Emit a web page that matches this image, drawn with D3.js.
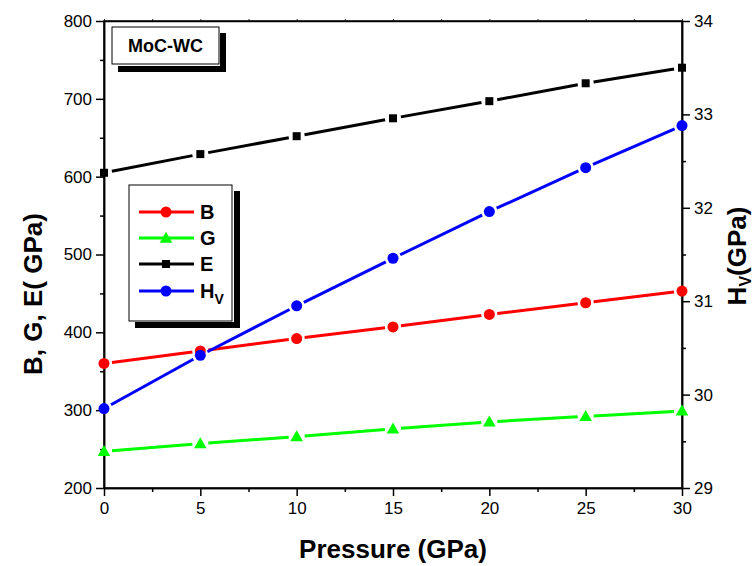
<!DOCTYPE html>
<html><head><meta charset="utf-8">
<script src="https://cdn.jsdelivr.net/npm/d3@7"></script>
<style>body{margin:0;background:#fff}svg{display:block}text{font-family:"Liberation Sans",Arial,sans-serif}</style>
</head><body>
<script>
const pressure = [0, 5, 10, 15, 20, 25, 30];
const B  = [360, 376, 392, 407, 423, 438, 453];
const G  = [247, 257, 266, 276, 285, 292, 299];
const E  = [605, 629, 652, 675, 697, 720, 740];
const Hv = [29.85, 30.42, 30.95, 31.46, 31.96, 32.43, 32.88];
const leftTicks = [200, 300, 400, 500, 600, 700, 800];
const rightTicks = [29, 30, 31, 32, 33, 34];
const bottomTicks = [0, 5, 10, 15, 20, 25, 30];
const seriesNames = ["B", "G", "E", "Hv"];
const seriesColors = ["#ff0000", "#00ff00", "#000000", "#0000ff"];
const seriesSymbols = ["circle", "triangle", "square", "circle"];

const W = 756, H = 566;
const svg = d3.select("body").append("svg").attr("width", W).attr("height", H);
const x = d3.scaleLinear().domain([0, 30]).range([104, 682]);
const yL = d3.scaleLinear().domain([200, 800]).range([488, 21]);
const yR = d3.scaleLinear().domain([29, 34]).range([488, 21]);

// frame
const fr = svg.append("g").attr("stroke", "#000").attr("stroke-width", 1.5).attr("fill", "none");
fr.append("rect").attr("x", x(0)).attr("y", yL(800)).attr("width", x(30) - x(0)).attr("height", yL(200) - yL(800));

// axes
const fmt = d3.format("d");
const axL = d3.axisLeft(yL).tickValues(leftTicks).tickSize(8).tickSizeOuter(0).tickPadding(4).tickFormat(fmt);
const axLm = d3.axisLeft(yL).tickValues(d3.range(250, 800, 100)).tickSize(4).tickFormat("").tickSizeOuter(0);
const axB = d3.axisBottom(x).tickValues(bottomTicks).tickSize(8).tickSizeOuter(0).tickPadding(6).tickFormat(fmt);
const axBm = d3.axisBottom(x).tickValues(d3.range(2.5, 30, 5)).tickSize(4).tickFormat("").tickSizeOuter(0);
const axR = d3.axisRight(yR).tickValues(rightTicks).tickSize(8).tickSizeOuter(0).tickPadding(4).tickFormat(fmt);
const axRm = d3.axisRight(yR).tickValues(d3.range(29.5, 34, 1)).tickSize(4).tickFormat("").tickSizeOuter(0);
const axT = d3.axisTop(x).tickValues(d3.range(0, 30.1, 2.5)).tickSize(2).tickFormat("").tickSizeOuter(0);

function style(g) {
  g.selectAll("path").attr("stroke", "#000").attr("stroke-width", 1.5);
  g.selectAll("line").attr("stroke", "#000").attr("stroke-width", 1.5);
  g.selectAll("text").attr("fill", "#000").style("font-size", "17px").style("font-family", "'Liberation Sans',Arial,sans-serif");
}
style(svg.append("g").attr("transform", `translate(${x(0)},0)`).call(axL));
style(svg.append("g").attr("transform", `translate(${x(0)},0)`).call(axLm));
style(svg.append("g").attr("transform", `translate(0,${yL(200)})`).call(axB));
style(svg.append("g").attr("transform", `translate(0,${yL(200)})`).call(axBm));
style(svg.append("g").attr("transform", `translate(${x(30)},0)`).call(axR));
style(svg.append("g").attr("transform", `translate(${x(30)},0)`).call(axRm));
const tg = svg.append("g").attr("transform", `translate(0,${yL(800)})`).call(axT);
style(tg); tg.selectAll("line").attr("stroke-width", 0.8);

// axis titles
svg.append("text").attr("x", 393).attr("y", 558).attr("text-anchor", "middle")
  .style("font-size", "26px").style("font-weight", "bold").text("Pressure (GPa)");
svg.append("text").attr("transform", "translate(42,294) rotate(-90)").attr("text-anchor", "middle")
  .style("font-size", "26px").style("font-weight", "bold").text("B, G, E( GPa)");
const rt = svg.append("text").attr("transform", "translate(746,256) rotate(-90)").attr("text-anchor", "middle")
  .style("font-size", "26px").style("font-weight", "bold");
rt.append("tspan").text("H");
rt.append("tspan").attr("dy", 5).style("font-size", "16px").text("V");
rt.append("tspan").attr("dy", -5).text("(GPa)");

// series
const data = [B, G, E, Hv];
const scales = [yL, yL, yL, yR];
function marker(g, sym, color, cx, cy) {
  if (sym === "circle") g.append("circle").attr("cx", cx).attr("cy", cy).attr("r", 5.5).attr("fill", color);
  else if (sym === "square") g.append("rect").attr("x", cx - 4).attr("y", cy - 4).attr("width", 8).attr("height", 8).attr("fill", color);
  else g.append("path").attr("d", d3.symbol(d3.symbolTriangle, 70)()).attr("transform", `translate(${cx},${cy + 1})`).attr("fill", color);
}
data.forEach((vals, si) => {
  const g = svg.append("g");
  const ys = scales[si];
  const pts = pressure.map((p, i) => [x(p), ys(vals[i])]);
  const gap = 8;
  for (let i = 0; i < pts.length - 1; i++) {
    const [x1, y1] = pts[i], [x2, y2] = pts[i + 1];
    const dx = x2 - x1, dy = y2 - y1, L = Math.hypot(dx, dy);
    const ux = dx / L, uy = dy / L;
    g.append("line").attr("x1", x1 + ux * gap).attr("y1", y1 + uy * gap)
      .attr("x2", x2 - ux * gap).attr("y2", y2 - uy * gap)
      .attr("stroke", seriesColors[si]).attr("stroke-width", 3);
  }
  pts.forEach(([cx, cy]) => marker(g, seriesSymbols[si], seriesColors[si], cx, cy));
});

// title box
svg.append("rect").attr("x", 118).attr("y", 66).attr("width", 108).attr("height", 6).attr("fill", "#000");
svg.append("rect").attr("x", 220).attr("y", 33).attr("width", 6).attr("height", 39).attr("fill", "#000");
svg.append("rect").attr("x", 112).attr("y", 27).attr("width", 107).attr("height", 37).attr("fill", "#fff").attr("stroke", "#000").attr("stroke-width", 1);
svg.append("text").attr("x", 165.5).attr("y", 52).attr("text-anchor", "middle")
  .style("font-size", "18px").style("font-weight", "bold").text("MoC-WC");

// legend
svg.append("rect").attr("x", 135).attr("y", 322).attr("width", 105).attr("height", 6).attr("fill", "#000");
svg.append("rect").attr("x", 234).attr("y", 191).attr("width", 6).attr("height", 137).attr("fill", "#000");
svg.append("rect").attr("x", 129).attr("y", 185).attr("width", 103).attr("height", 136).attr("fill", "#fff").attr("stroke", "#000").attr("stroke-width", 1);
const legY = [212, 238, 264, 291];
seriesNames.forEach((n, i) => {
  const g = svg.append("g");
  g.append("line").attr("x1", 139).attr("x2", 194).attr("y1", legY[i]).attr("y2", legY[i])
    .attr("stroke", seriesColors[i]).attr("stroke-width", 3);
  marker(g, seriesSymbols[i], seriesColors[i], 166, legY[i]);
  const t = g.append("text").attr("x", 200).attr("y", legY[i] + 7).style("font-size", "20px").style("font-weight", "bold");
  if (n === "Hv") { t.append("tspan").text("H"); t.append("tspan").attr("dy", 6).style("font-size", "14px").text("V"); }
  else t.text(n);
});
</script>
</body></html>
